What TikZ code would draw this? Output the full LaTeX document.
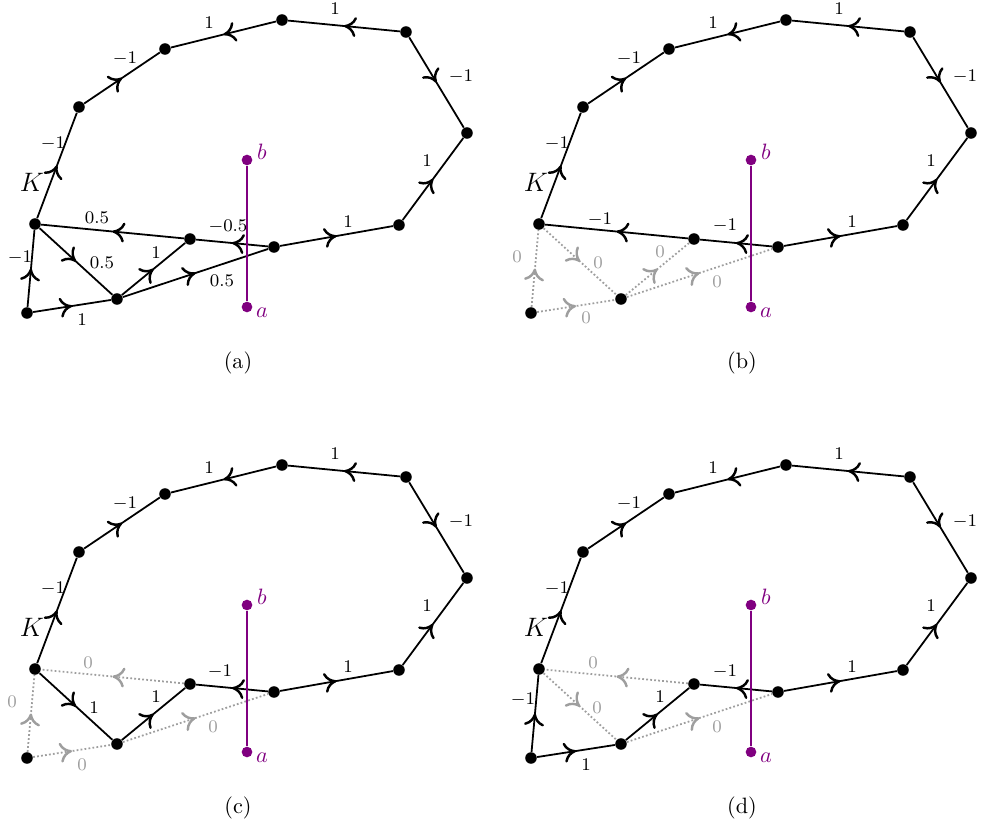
\documentclass[tikz,border=0pt]{standalone}
\usetikzlibrary{arrows.meta,decorations.markings}
\definecolor{myviolet}{RGB}{128,0,128}
\definecolor{lgray}{RGB}{158,158,158}
\tikzset{
  dot/.style={circle, fill=black, inner sep=0pt, minimum size=5.2pt},
  pdot/.style={circle, fill=myviolet, inner sep=0pt, minimum size=4.8pt},
  midarr/.style={postaction={decorate}, decoration={markings, mark=at position 0.5 with {\arrow[#1]{Computer Modern Rightarrow[length=5.5pt,width=9pt,line width=1.1pt]}}}},
  bedge/.style={draw=black, line width=0.8pt, midarr=black},
  gedge/.style={draw=lgray, line width=0.8pt, densely dotted, midarr=lgray},
  lab/.style={font=\footnotesize, inner sep=0pt},
  glab/.style={lab, text=lgray},
  pline/.style={draw=myviolet, line width=0.8pt},
}
\newcommand\basepanel[1]{%
  \node[dot] (#1A) at (35,224) {};
  \node[dot] (#1B) at (190,239) {};
  \node[dot] (#1C) at (274,247) {};
  \node[dot] (#1D) at (399,225) {};
  \node[dot] (#1E) at (117,299) {};
  \node[dot] (#1F) at (27,313) {};
  \node[dot] (#1P) at (79,107) {};
  \node[dot] (#1Q) at (165,49) {};
  \node[dot] (#1R) at (282,20) {};
  \node[dot] (#1S) at (406,32) {};
  \node[dot] (#1T) at (467,133) {};
  \path[bedge] (#1A) -- (#1P);
  \path[bedge] (#1P) -- (#1Q);
  \path[bedge] (#1R) -- (#1Q);
  \path[bedge] (#1S) -- (#1R);
  \path[bedge] (#1S) -- (#1T);
  \path[bedge] (#1D) -- (#1T);
  \path[bedge] (#1C) -- (#1D);
  \node[lab] (#1l1) at (53,144) {$-1$};
  \node[lab] (#1l2) at (125,59) {$-1$};
  \node[lab] (#1l3) at (209,23) {$1$};
  \node[lab] (#1l4) at (335,9) {$1$};
  \node[lab] (#1l5) at (461,77) {$-1$};
  \node[lab] (#1l6) at (427,161) {$1$};
  \node[lab] (#1l7) at (348,222) {$1$};
  \node[font=\large] (#1K) at (32,182) {$K$};
}
\newcommand\finishpanel[2]{%
  \node[pdot] (#1b) at (247,160) {};
  \node[pdot] (#1a) at (247,307) {};
  \path[pline] (#1b) -- (#1a);
  \node[text=myviolet] (#1bl) at (262,152) {$b$};
  \node[text=myviolet] (#1al) at (262,313) {$a$};
  \node (#1cap) at (238,363) {(#2)};
}
\begin{document}
\begin{tikzpicture}[x=0.45pt,y=-0.45pt]
\useasboundingbox (0,0) rectangle (981,832);
% panel (a)
\begin{scope}
  \basepanel{a}
  \path[bedge] (aF) -- (aA);
  \path[bedge] (aC) -- (aB);
  \path[bedge] (aB) -- (aA);
  \path[bedge] (aA) -- (aE);
  \path[bedge] (aE) -- (aB);
  \path[bedge] (aE) -- (aC);
  \path[bedge] (aF) -- (aE);
  \node[lab] (am1) at (20,258) {$-1$};
  \node[lab] (am2) at (228,227) {$-0.5$};
  \node[lab] (am3) at (97,218) {$0.5$};
  \node[lab] (am4) at (102,263) {$0.5$};
  \node[lab] (am5) at (156,253) {$1$};
  \node[lab] (am6) at (222,281) {$0.5$};
  \node[lab] (am7) at (82,320) {$1$};
  \finishpanel{a}{a}
\end{scope}
% panel (b)
\begin{scope}[shift={(504,0)}]
  \basepanel{b}
  \path[gedge] (bF) -- (bA);
  \path[bedge] (bC) -- (bB);
  \path[bedge] (bB) -- (bA);
  \path[gedge] (bA) -- (bE);
  \path[gedge] (bE) -- (bB);
  \path[gedge] (bE) -- (bC);
  \path[gedge] (bF) -- (bE);
  \node[glab] (bm1) at (13,257) {$0$};
  \node[lab] (bm2) at (221,226) {$-1$};
  \node[lab] (bm3) at (96,220) {$-1$};
  \node[glab] (bm4) at (94,263) {$0$};
  \node[glab] (bm5) at (156,252) {$0$};
  \node[glab] (bm6) at (213,282) {$0$};
  \node[glab] (bm7) at (82,318) {$0$};
  \finishpanel{b}{b}
\end{scope}
% panel (c)
\begin{scope}[shift={(0,445)}]
  \basepanel{c}
  \path[gedge] (cF) -- (cA);
  \path[bedge] (cC) -- (cB);
  \path[gedge] (cB) -- (cA);
  \path[bedge] (cA) -- (cE);
  \path[bedge] (cE) -- (cB);
  \path[gedge] (cE) -- (cC);
  \path[gedge] (cF) -- (cE);
  \node[glab] (cm1) at (12,257) {$0$};
  \node[lab] (cm2) at (220,227) {$-1$};
  \node[glab] (cm3) at (88,218) {$0$};
  \node[lab] (cm4) at (94,263) {$1$};
  \node[lab] (cm5) at (156,252) {$1$};
  \node[glab] (cm6) at (213,282) {$0$};
  \node[glab] (cm7) at (82,320) {$0$};
  \finishpanel{c}{c}
\end{scope}
% panel (d)
\begin{scope}[shift={(504,445)}]
  \basepanel{d}
  \path[bedge] (dF) -- (dA);
  \path[bedge] (dC) -- (dB);
  \path[gedge] (dB) -- (dA);
  \path[gedge] (dA) -- (dE);
  \path[bedge] (dE) -- (dB);
  \path[gedge] (dE) -- (dC);
  \path[bedge] (dF) -- (dE);
  \node[lab] (dm1) at (19,255) {$-1$};
  \node[lab] (dm2) at (221,227) {$-1$};
  \node[glab] (dm3) at (89,218) {$0$};
  \node[glab] (dm4) at (93,263) {$0$};
  \node[lab] (dm5) at (156,252) {$1$};
  \node[glab] (dm6) at (213,282) {$0$};
  \node[lab] (dm7) at (82,320) {$1$};
  \finishpanel{d}{d}
\end{scope}
\end{tikzpicture}
\end{document}
